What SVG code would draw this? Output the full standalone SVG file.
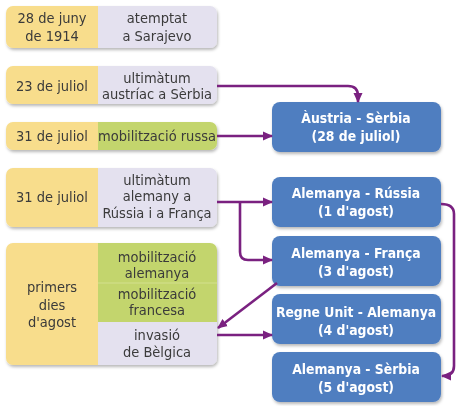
<svg xmlns="http://www.w3.org/2000/svg" width="466" height="406" viewBox="0 0 466 406">
<defs>
<style>
.t{font-family:"DejaVu Sans Condensed","Liberation Sans Narrow","Open Sans",sans-serif;font-size:14.5px;fill:#3a3a3a;text-anchor:middle}
.w{font-family:"DejaVu Sans Condensed","Liberation Sans Narrow","Open Sans",sans-serif;font-size:13.8px;font-weight:bold;fill:#ffffff;text-anchor:middle}
.y{fill:#f8dd8c}
.l{fill:#e4e1ef}
.g{fill:#c3d56d}
.b{fill:#4f7ec0}
.c{fill:none;stroke:#7a2180;stroke-width:2.6;marker-end:url(#ah)}
</style>
<filter id="sh" x="-10%" y="-10%" width="120%" height="130%">
<feDropShadow dx="1" dy="2" stdDeviation="1.5" flood-color="#000" flood-opacity="0.28"/>
</filter>
<marker id="ah" markerUnits="userSpaceOnUse" markerWidth="10" markerHeight="10" refX="9" refY="5" orient="auto" viewBox="0 0 10 10">
<path d="M0,0.5 L10,5 L0,9.5 z" fill="#7a2180"/>
</marker>
<clipPath id="k1"><rect x="6" y="6" width="211" height="42" rx="7"/></clipPath>
<clipPath id="k2"><rect x="6" y="66" width="211" height="38" rx="7"/></clipPath>
<clipPath id="k3"><rect x="6" y="122" width="211" height="28" rx="7"/></clipPath>
<clipPath id="k4"><rect x="6" y="168" width="211" height="59" rx="7"/></clipPath>
<clipPath id="k5"><rect x="6" y="243" width="211" height="122" rx="7"/></clipPath>
</defs>
<rect width="466" height="406" fill="#ffffff"/>

<g id="n1" filter="url(#sh)"><g clip-path="url(#k1)"><rect class="y" x="6" y="6" width="92" height="42"/><rect class="l" x="98" y="6" width="119" height="42"/></g>
<text class="t" x="52" y="23">28 de juny</text><text class="t" x="52" y="41">de 1914</text>
<text class="t" x="157" y="23">atemptat</text><text class="t" x="157" y="41">a Sarajevo</text></g>

<g id="n2" filter="url(#sh)"><g clip-path="url(#k2)"><rect class="y" x="6" y="66" width="92" height="38"/><rect class="l" x="98" y="66" width="119" height="38"/></g>
<text class="t" x="52" y="91">23 de juliol</text>
<text class="t" x="157" y="83">ultimàtum</text><text class="t" x="157" y="99">austríac a Sèrbia</text></g>

<g id="n3" filter="url(#sh)"><g clip-path="url(#k3)"><rect class="y" x="6" y="122" width="92" height="28"/><rect class="g" x="98" y="122" width="119" height="28"/></g>
<text class="t" x="52" y="141">31 de juliol</text>
<text class="t" x="157" y="141">mobilització russa</text></g>

<g id="n4" filter="url(#sh)"><g clip-path="url(#k4)"><rect class="y" x="6" y="168" width="92" height="59"/><rect class="l" x="98" y="168" width="119" height="59"/></g>
<text class="t" x="52" y="202">31 de juliol</text>
<text class="t" x="157" y="185">ultimàtum</text><text class="t" x="157" y="201">alemany a</text><text class="t" x="157" y="218">Rússia i a França</text></g>

<g id="n5" filter="url(#sh)"><g clip-path="url(#k5)"><rect class="y" x="6" y="243" width="92" height="122"/><rect class="g" x="98" y="243" width="119" height="79"/><rect class="l" x="98" y="322" width="119" height="43"/><line x1="98" y1="283" x2="217" y2="283" stroke="#d3e08f" stroke-width="1"/></g>
<text class="t" x="52" y="292">primers</text><text class="t" x="52" y="310">dies</text><text class="t" x="52" y="327">d'agost</text>
<text class="t" x="157" y="262">mobilització</text><text class="t" x="157" y="278">alemanya</text>
<text class="t" x="157" y="299">mobilització</text><text class="t" x="157" y="315">francesa</text>
<text class="t" x="157" y="340">invasió</text><text class="t" x="157" y="357">de Bèlgica</text></g>

<g id="r1" filter="url(#sh)"><rect class="b" x="272" y="102" width="169" height="50" rx="8"/>
<text class="w" x="356" y="123">Àustria - Sèrbia</text><text class="w" x="356" y="141">(28 de juliol)</text></g>
<g id="r2" filter="url(#sh)"><rect class="b" x="272" y="177" width="169" height="50" rx="8"/>
<text class="w" x="356" y="198">Alemanya - Rússia</text><text class="w" x="356" y="216">(1 d'agost)</text></g>
<g id="r3" filter="url(#sh)"><rect class="b" x="272" y="236" width="169" height="50" rx="8"/>
<text class="w" x="356" y="258">Alemanya - França</text><text class="w" x="356" y="276">(3 d'agost)</text></g>
<g id="r4" filter="url(#sh)"><rect class="b" x="272" y="294" width="169" height="50" rx="8"/>
<text class="w" x="356" y="317">Regne Unit - Alemanya</text><text class="w" x="356" y="335">(4 d'agost)</text></g>
<g id="r5" filter="url(#sh)"><rect class="b" x="272" y="352" width="169" height="50" rx="8"/>
<text class="w" x="356" y="374">Alemanya - Sèrbia</text><text class="w" x="356" y="392">(5 d'agost)</text></g>

<g id="connectors">
<path class="c" d="M217,86 H348 Q358,86 358,96 V102"/>
<path class="c" d="M217,136 H272"/>
<path class="c" d="M217,202 H272"/>
<path class="c" d="M240,202 V252 Q240,260 248,260 H272"/>
<path class="c" d="M277,283 L218,328"/>
<path class="c" d="M217,335 H272"/>
<path class="c" d="M441,204 Q454,204 454,214 V366 Q454,376 442,376"/>
</g>
</svg>
